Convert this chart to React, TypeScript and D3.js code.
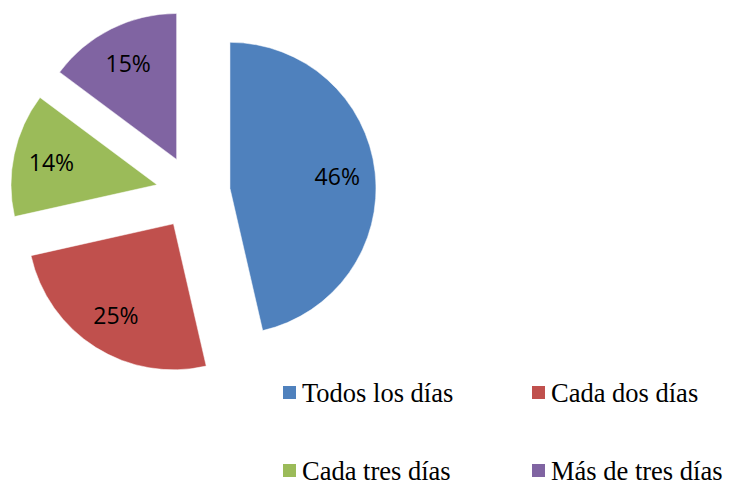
import React from "react";
import * as d3 from "d3";

const categories = ["Todos los días", "Cada dos días", "Cada tres días", "Más de tres días"];
const values = [46.4, 25.1, 13.7, 14.8];
const colors = ["#4F81BD", "#C0504D", "#9BBB59", "#8064A2"];

const W = 729;
const H = 486;
const CX = 193.2;
const CY = 192.5;
const R = 146;
const EXPLODE = 37;
const LABEL_R = 108;

export default function App() {
  const pie = d3.pie<number>().sort(null).value((d) => d).startAngle(0).endAngle(2 * Math.PI);
  const arcs = pie(values);
  const arcGen = d3.arc<d3.PieArcDatum<number>>().innerRadius(0).outerRadius(R);
  const total = d3.sum(values);

  const legendX = [283, 532];
  const legendY = [386, 464];

  return (
    <svg
      width={W}
      height={H}
      style={{ position: "absolute", left: 0, top: 0, background: "#fff" }}
    >
      {arcs.map((a, i) => {
        const mid = (a.startAngle + a.endAngle) / 2;
        const ox = EXPLODE * Math.sin(mid);
        const oy = -EXPLODE * Math.cos(mid);
        const lx = LABEL_R * Math.sin(mid);
        const ly = -LABEL_R * Math.cos(mid);
        return (
          <g key={i} transform={`translate(${CX + ox},${CY + oy})`}>
            <path d={arcGen(a) || ""} fill={colors[i]} stroke="#fff" strokeWidth={0.5} />
            <text
              x={lx}
              y={ly}
              textAnchor="middle"
              dominantBaseline="central"
              fontFamily="'Open Sans', 'Liberation Sans', sans-serif"
              fontSize={23}
              fill="#000"
            >
              {Math.round((values[i] / total) * 100)}%
            </text>
          </g>
        );
      })}
      {categories.map((c, i) => {
        const col = i % 2;
        const row = Math.floor(i / 2);
        const x = legendX[col];
        const y = legendY[row];
        return (
          <g key={c} transform={`translate(${x},${y})`}>
            <rect x={0} y={0} width={13} height={13} fill={colors[i]} />
            <text
              x={19}
              y={15.7}
              fontFamily="'Liberation Serif', 'Times New Roman', serif"
              fontSize={26.5}
              fill="#000"
            >
              {c}
            </text>
          </g>
        );
      })}
    </svg>
  );
}
